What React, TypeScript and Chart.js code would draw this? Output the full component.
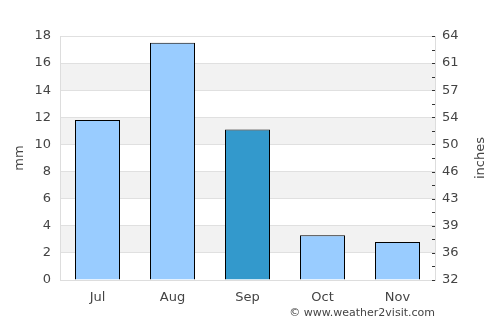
import React, { useEffect, useRef } from "react";
import { Chart, registerables } from "chart.js";

Chart.register(...registerables);

const months = ["Jul", "Aug", "Sep", "Oct", "Nov"];
const rainfallMm = [11.8, 17.5, 11.1, 3.3, 2.8];
const highlightIndex = 2;
const rightTickLabels = ["32", "36", "39", "43", "46", "50", "54", "57", "61", "64"];
const leftMax = 18;
const copyright = "© www.weather2visit.com";
const rightTitle = "inches";

const FONT = "'DejaVu Sans', sans-serif";
const TEXT = "#444444";

const bandPlugin = {
  id: "bands",
  beforeDraw(chart: any) {
    const { ctx, chartArea } = chart;
    const y = chart.scales.y;
    ctx.save();
    ctx.fillStyle = "#f2f2f2";
    y.ticks.forEach((t: any) => {
      const v = t.value;
      if (v < leftMax && (v / 2) % 2 === 1) {
        const top = y.getPixelForValue(v + 2);
        const bottom = y.getPixelForValue(v);
        ctx.fillRect(chartArea.left, top, chartArea.right - chartArea.left, bottom - top);
      }
    });
    ctx.restore();
  },
  afterDraw(chart: any) {
    const { ctx, chartArea } = chart;
    const s = chart.scales.y2;
    ctx.save();
    // small inner tick marks on the right axis
    ctx.strokeStyle = "#333333";
    ctx.lineWidth = 1;
    s.ticks.forEach((t: any) => {
      const py = Math.round(s.getPixelForValue(t.value)) + 0.5;
      ctx.beginPath();
      ctx.moveTo(chartArea.right - 3, py);
      ctx.lineTo(chartArea.right, py);
      ctx.stroke();
    });
    ctx.font = `13px ${FONT}`;
    ctx.fillStyle = TEXT;
    ctx.textAlign = "center";
    ctx.textBaseline = "middle";
    ctx.translate(s.right - 19, (chartArea.top + chartArea.bottom) / 2);
    ctx.rotate(-Math.PI / 2);
    ctx.fillText(rightTitle, 0, 0);
    ctx.restore();
  },
};

export default function App() {
  const ref = useRef<HTMLCanvasElement | null>(null);
  useEffect(() => {
    if (!ref.current) return;
    const chart = new Chart(ref.current, {
      type: "bar",
      data: {
        labels: months,
        datasets: [
          {
            data: rainfallMm,
            backgroundColor: rainfallMm.map((_, i) => (i === highlightIndex ? "#3399cc" : "#99ccff")),
            borderColor: "#000000",
            borderWidth: 1,
            barPercentage: 0.6,
            categoryPercentage: 1,
            yAxisID: "y",
          },
        ],
      },
      options: {
        animation: false,
        responsive: false,
        maintainAspectRatio: false,
        layout: { padding: { top: 36, left: 0, right: 0, bottom: 0 } },
        plugins: {
          legend: { display: false },
          tooltip: { enabled: false },
          title: {
            display: true,
            text: copyright,
            position: "bottom",
            align: "end",
            fullSize: false,
            color: TEXT,
            font: { family: FONT, size: 11, weight: "normal" },
            padding: { top: -3, bottom: 4.8 },
          },
        },
        scales: {
          x: {
            grid: { display: false, drawTicks: false },
            border: { display: true, color: "#dddddd" },
            ticks: { color: TEXT, font: { family: FONT, size: 13 }, padding: 10 },
            afterFit(scale: any) {
              scale.height = 30;
            },
          },
          y: {
            position: "left",
            min: 0,
            max: leftMax,
            ticks: { stepSize: 2, color: TEXT, font: { family: FONT, size: 13 }, padding: 9 },
            grid: { color: "#e0e0e0", drawTicks: false },
            border: { display: true, color: "#dddddd" },
            title: {
              display: true,
              text: "mm",
              color: TEXT,
              font: { family: FONT, size: 13 },
              padding: { top: 12, bottom: 0 },
            },
            afterFit(scale: any) {
              scale.width = 60;
            },
          },
          y2: {
            position: "right",
            min: 0,
            max: leftMax,
            ticks: {
              stepSize: 1,
              color: TEXT,
              font: { family: FONT, size: 13 },
              padding: 7,
              autoSkip: false,
              callback: (v: any) => (Number(v) % 2 === 0 ? rightTickLabels[Number(v) / 2] : ""),
            },
            grid: { drawOnChartArea: false, drawTicks: false },
            border: { display: true, color: "#dddddd" },
            afterFit(scale: any) {
              scale.width = 65;
            },
          },
        },
      },
      plugins: [bandPlugin],
    } as any);
    return () => chart.destroy();
  }, []);
  return (
    <div style={{ position: "fixed", left: 0, top: 0, width: 500, height: 325, background: "#fff" }}>
      <canvas ref={ref} width={500} height={325} style={{ width: 500, height: 325, display: "block" }} />
    </div>
  );
}
